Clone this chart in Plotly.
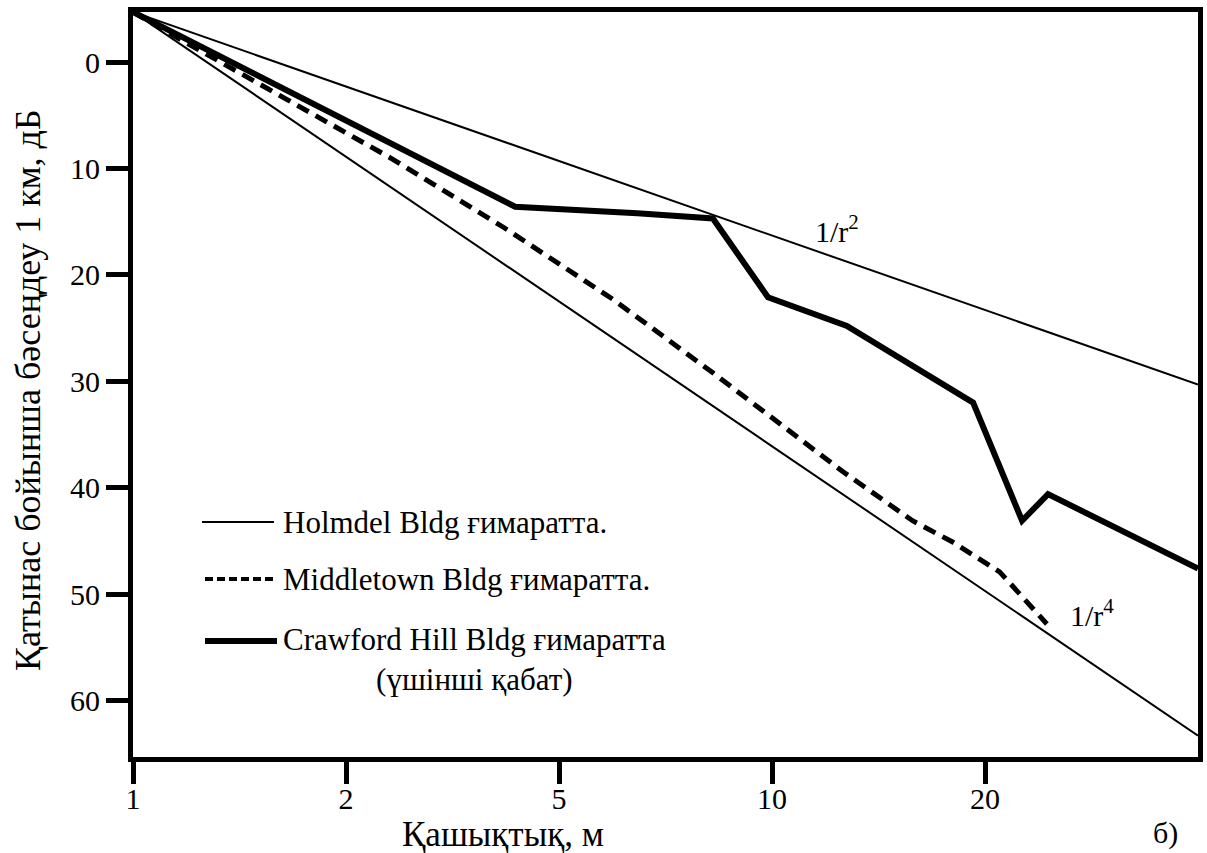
import plotly.graph_objects as go
import numpy as np

# ---- axis definition (distance, m): evenly spaced 1-2-5 scale as drawn ----
scale_r = [1, 2, 5, 10, 20, 50]
tick_vals_r = [1, 2, 5, 10, 20]
tick_text = ["1", "2", "5", "10", "20"]
y_ticks = [0, 10, 20, 30, 40, 50, 60]

# ---- data: distance (m) and path loss (dB) ----
holmdel_r = [1.0, 2.32, 7.91, 24.6, 39.5, 50.0]
holmdel_db = [-4.7, 11.1, 31.5, 52.8, 59.8, 63.3]

middletown_r = [1.0, 1.19, 2.42, 3.93, 5.96, 8.25, 10.36, 12.6, 15.8, 18.0, 21.3, 24.0, 26.1]
middletown_db = [-4.7, -1.8, 9.0, 15.5, 22.3, 29.2, 34.2, 38.5, 43.1, 45.1, 47.9, 50.7, 52.8]

crawford_r = [1.0, 2.52, 4.14, 6.45, 8.25, 9.87, 12.76, 19.24, 23.46, 26.23, 50.0]
crawford_db = [-4.7, 8.0, 13.6, 14.2, 14.7, 22.1, 24.8, 32.0, 43.1, 40.6, 47.6]

inv_r2_r = [1.0, 50.0]
inv_r2_db = [-4.7, 30.3]


def axis_pos(r):
    """Position of a distance on the evenly spaced 1-2-5 axis."""
    r = np.asarray(r, dtype=float)
    lr = np.log10(scale_r)
    return np.interp(np.log10(r), lr, np.arange(len(scale_r)))


FONT = "Liberation Serif"
fig = go.Figure()

fig.add_trace(go.Scatter(x=axis_pos(inv_r2_r), y=inv_r2_db, mode="lines",
                         line=dict(color="black", width=2), showlegend=False))
fig.add_trace(go.Scatter(x=axis_pos(holmdel_r), y=holmdel_db, mode="lines",
                         line=dict(color="black", width=2), showlegend=False,
                         name="Holmdel Bldg ғимаратта."))
fig.add_trace(go.Scatter(x=axis_pos(middletown_r), y=middletown_db, mode="lines",
                         line=dict(color="black", width=5, dash="13px,8px"),
                         showlegend=False, name="Middletown Bldg ғимаратта."))
fig.add_trace(go.Scatter(x=axis_pos(crawford_r), y=crawford_db, mode="lines",
                         line=dict(color="black", width=6), showlegend=False,
                         name="Crawford Hill Bldg ғимаратта"))

L, R, T, B = 133, 1198, 12, 757
PW, PH = R - L, B - T


def px(x):
    return (x - L) / PW


def py(y):
    return (B - y) / PH


annotations = []
shapes = []

# manual legend
legend_items = [
    (522, dict(width=2), 202, 274),
    (579, dict(width=4, dash="8px,4px"), 205, 277),
    (641, dict(width=6), 205, 277),
]
for yy, ln, x0, x1 in legend_items:
    shapes.append(dict(type="line", xref="paper", yref="paper",
                       x0=px(x0), x1=px(x1), y0=py(yy), y1=py(yy),
                       line=dict(color="black", **ln)))


def note(text, x, y, size=31, **kw):
    d = dict(text=text, x=px(x), y=py(y), xref="paper", yref="paper",
             showarrow=False, font=dict(family=FONT, size=size, color="black"))
    d.update(kw)
    annotations.append(d)


note("Holmdel Bldg ғимаратта.", 281, 522, xanchor="left", yanchor="middle")
note("Middletown Bldg ғимаратта.", 281, 579, xanchor="left", yanchor="middle")
note("Crawford Hill Bldg ғимаратта<br>(үшінші қабат)", 281, 659,
     xanchor="left", yanchor="middle", align="center")

# line labels
note("1/r<sup>2</sup>", 813, 229, size=30, xanchor="left", yanchor="middle")
note("1/r<sup>4</sup>", 1068, 613, size=30, xanchor="left", yanchor="middle")

# axis titles and panel label
note("Қашықтық, м", 503, 835, size=35, xanchor="center", yanchor="middle")
note("Қатынас бойынша бәсеңдеу 1 км, дБ", 28, 390, size=36,
     xanchor="center", yanchor="middle", textangle=-90)
note("б)", 1165, 833, size=30, xanchor="center", yanchor="middle")

fig.update_layout(
    width=1207, height=853,
    margin=dict(l=L, r=1207 - R, t=T, b=853 - B),
    paper_bgcolor="white", plot_bgcolor="white",
    font=dict(family=FONT, size=30, color="black"),
    annotations=annotations, shapes=shapes, showlegend=False,
)
fig.update_xaxes(range=[0, 5], tickvals=axis_pos(tick_vals_r), ticktext=tick_text,
                 showgrid=False, zeroline=False, showline=True, linewidth=5,
                 linecolor="black", mirror=True, ticks="outside", ticklen=22,
                 tickwidth=5, tickcolor="black", automargin=False,
                 ticklabelstandoff=-11,
                 tickfont=dict(family=FONT, size=30, color="black"))
fig.update_yaxes(range=[65.3, -4.7], tickvals=y_ticks, showgrid=False, zeroline=False,
                 showline=True, linewidth=5, linecolor="black", mirror=True,
                 ticks="outside", ticklen=22, tickwidth=5, tickcolor="black",
                 ticklabelstandoff=0, automargin=False,
                 tickfont=dict(family=FONT, size=30, color="black"))

fig.write_html("out.html", config={"displayModeBar": False},
               post_script="document.body.style.margin='0';document.body.style.padding='0';")
